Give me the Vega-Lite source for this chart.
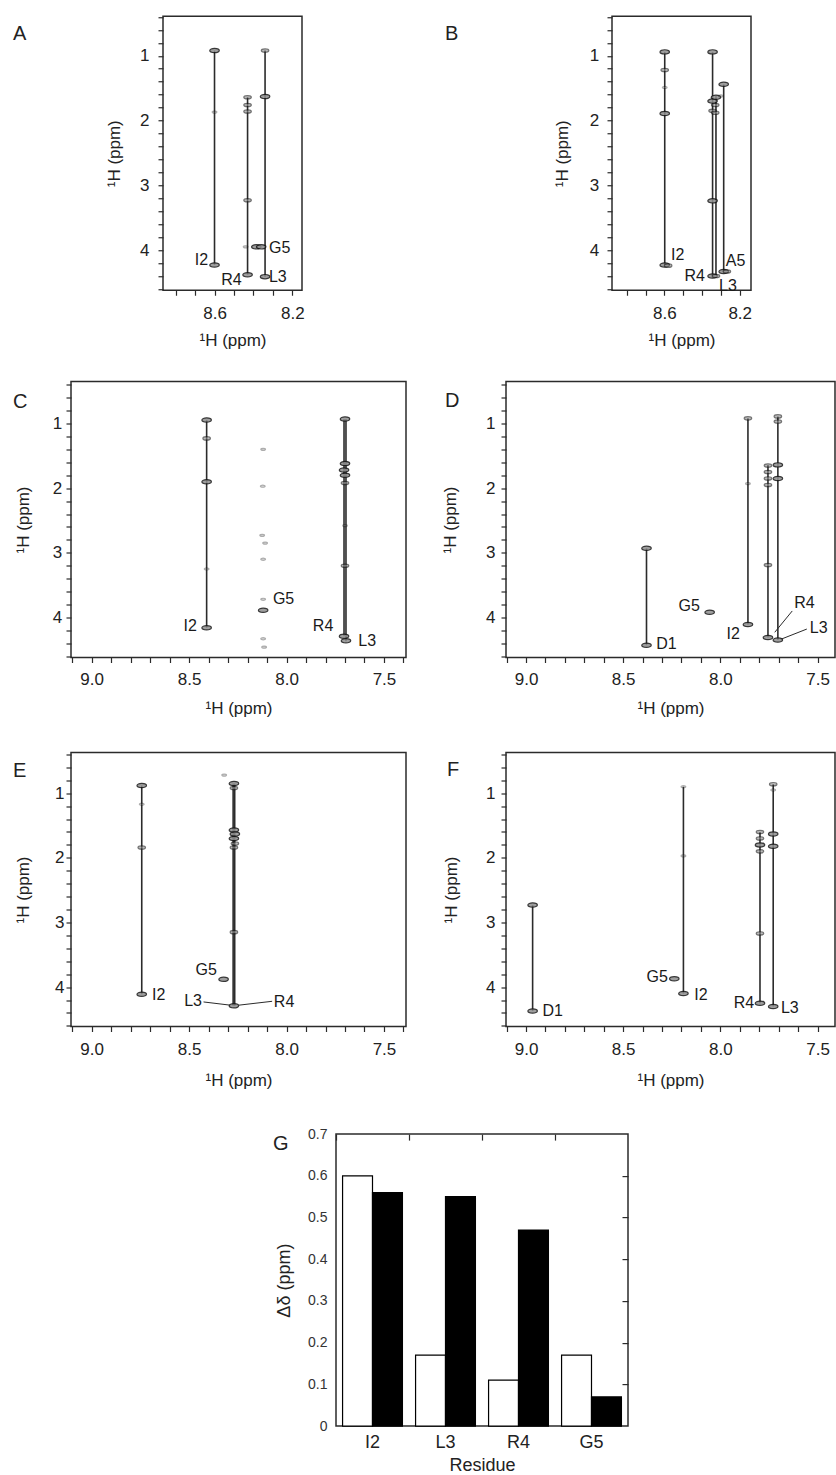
{
  "$schema": "https://vega.github.io/schema/vega-lite/v6.json",
  "padding": {"left": 0, "top": 15.25, "right": 0, "bottom": 0},
  "background": "white",
  "datasets": {
    "spinSystems": [
      {"panel": "A", "residue": "I2", "x": 8.60, "y": 0.92, "y2": 4.23},
      {"panel": "A", "residue": "R4", "x": 8.43, "y": 1.64, "y2": 4.38},
      {"panel": "A", "residue": "L3", "x": 8.34, "y": 0.92, "y2": 4.41},
      {"panel": "B", "residue": "I2", "x": 8.598, "y": 0.94, "y2": 4.23},
      {"panel": "B", "residue": "R4", "x": 8.344, "y": 0.94, "y2": 4.40},
      {"panel": "B", "residue": "L3", "x": 8.326, "y": 1.62, "y2": 4.40},
      {"panel": "B", "residue": "A5", "x": 8.285, "y": 1.44, "y2": 4.33},
      {"panel": "C", "residue": "I2", "x": 8.41, "y": 0.945, "y2": 4.16},
      {"panel": "C", "residue": "R4", "x": 7.705, "y": 0.93, "y2": 4.29},
      {"panel": "C", "residue": "L3", "x": 7.695, "y": 0.93, "y2": 4.37},
      {"panel": "D", "residue": "D1", "x": 8.38, "y": 2.93, "y2": 4.43},
      {"panel": "D", "residue": "I2", "x": 7.858, "y": 0.92, "y2": 4.11},
      {"panel": "D", "residue": "R4", "x": 7.755, "y": 1.64, "y2": 4.31},
      {"panel": "D", "residue": "L3", "x": 7.704, "y": 0.89, "y2": 4.35},
      {"panel": "E", "residue": "I2", "x": 8.743, "y": 0.88, "y2": 4.11},
      {"panel": "E", "residue": "R4", "x": 8.274, "y": 0.85, "y2": 4.29},
      {"panel": "E", "residue": "L3", "x": 8.266, "y": 0.85, "y2": 4.29},
      {"panel": "F", "residue": "D1", "x": 8.966, "y": 2.73, "y2": 4.37},
      {"panel": "F", "residue": "I2", "x": 8.19, "y": 0.90, "y2": 4.10},
      {"panel": "F", "residue": "R4", "x": 7.796, "y": 1.60, "y2": 4.25},
      {"panel": "F", "residue": "L3", "x": 7.728, "y": 0.86, "y2": 4.30}
    ],
    "crossPeaks": [
      {"panel": "A", "residue": "I2", "x": 8.60, "y": 0.92, "intensity": 3},
      {"panel": "A", "residue": "I2", "x": 8.60, "y": 1.87, "intensity": 1},
      {"panel": "A", "residue": "I2", "x": 8.60, "y": 4.23, "intensity": 3},
      {"panel": "A", "residue": "R4", "x": 8.43, "y": 1.64, "intensity": 2},
      {"panel": "A", "residue": "R4", "x": 8.43, "y": 1.76, "intensity": 2},
      {"panel": "A", "residue": "R4", "x": 8.43, "y": 1.86, "intensity": 2},
      {"panel": "A", "residue": "R4", "x": 8.43, "y": 3.23, "intensity": 2},
      {"panel": "A", "residue": "R4", "x": 8.44, "y": 3.95, "intensity": 1},
      {"panel": "A", "residue": "R4", "x": 8.43, "y": 4.38, "intensity": 3},
      {"panel": "A", "residue": "L3", "x": 8.34, "y": 0.92, "intensity": 2},
      {"panel": "A", "residue": "L3", "x": 8.34, "y": 1.63, "intensity": 3},
      {"panel": "A", "residue": "L3", "x": 8.34, "y": 4.41, "intensity": 3},
      {"panel": "A", "residue": "G5", "x": 8.385, "y": 3.95, "intensity": 3},
      {"panel": "A", "residue": "G5", "x": 8.36, "y": 3.95, "intensity": 3},
      {"panel": "B", "residue": "I2", "x": 8.598, "y": 0.94, "intensity": 3},
      {"panel": "B", "residue": "I2", "x": 8.598, "y": 1.22, "intensity": 2},
      {"panel": "B", "residue": "I2", "x": 8.598, "y": 1.49, "intensity": 1},
      {"panel": "B", "residue": "I2", "x": 8.598, "y": 1.89, "intensity": 3},
      {"panel": "B", "residue": "I2", "x": 8.598, "y": 4.23, "intensity": 3},
      {"panel": "B", "residue": "I2", "x": 8.58, "y": 4.24, "intensity": 2},
      {"panel": "B", "residue": "R4", "x": 8.344, "y": 0.94, "intensity": 3},
      {"panel": "B", "residue": "R4", "x": 8.344, "y": 1.70, "intensity": 3},
      {"panel": "B", "residue": "R4", "x": 8.344, "y": 1.85, "intensity": 2},
      {"panel": "B", "residue": "R4", "x": 8.344, "y": 3.24, "intensity": 3},
      {"panel": "B", "residue": "R4", "x": 8.344, "y": 4.40, "intensity": 3},
      {"panel": "B", "residue": "L3", "x": 8.326, "y": 1.64, "intensity": 3},
      {"panel": "B", "residue": "L3", "x": 8.33, "y": 1.76, "intensity": 2},
      {"panel": "B", "residue": "L3", "x": 8.33, "y": 1.88, "intensity": 2},
      {"panel": "B", "residue": "L3", "x": 8.326, "y": 4.40, "intensity": 2},
      {"panel": "B", "residue": "A5", "x": 8.285, "y": 1.44, "intensity": 3},
      {"panel": "B", "residue": "A5", "x": 8.30, "y": 1.62, "intensity": 1},
      {"panel": "B", "residue": "A5", "x": 8.285, "y": 4.33, "intensity": 3},
      {"panel": "B", "residue": "A5", "x": 8.268, "y": 4.33, "intensity": 2},
      {"panel": "C", "residue": "I2", "x": 8.41, "y": 0.945, "intensity": 3},
      {"panel": "C", "residue": "I2", "x": 8.41, "y": 1.23, "intensity": 2},
      {"panel": "C", "residue": "I2", "x": 8.41, "y": 1.90, "intensity": 3},
      {"panel": "C", "residue": "I2", "x": 8.41, "y": 3.25, "intensity": 1},
      {"panel": "C", "residue": "I2", "x": 8.41, "y": 4.16, "intensity": 3},
      {"panel": "C", "residue": "G5", "x": 8.12, "y": 3.89, "intensity": 3},
      {"panel": "C", "residue": "G5", "x": 8.12, "y": 3.72, "intensity": 1},
      {"panel": "C", "residue": "G5", "x": 8.12, "y": 1.40, "intensity": 1},
      {"panel": "C", "residue": "G5", "x": 8.122, "y": 1.97, "intensity": 1},
      {"panel": "C", "residue": "G5", "x": 8.125, "y": 2.73, "intensity": 1},
      {"panel": "C", "residue": "G5", "x": 8.11, "y": 2.85, "intensity": 1},
      {"panel": "C", "residue": "G5", "x": 8.12, "y": 3.10, "intensity": 1},
      {"panel": "C", "residue": "G5", "x": 8.12, "y": 4.33, "intensity": 1},
      {"panel": "C", "residue": "G5", "x": 8.115, "y": 4.46, "intensity": 1},
      {"panel": "C", "residue": "R4", "x": 7.70, "y": 0.93, "intensity": 3},
      {"panel": "C", "residue": "R4", "x": 7.70, "y": 1.62, "intensity": 3},
      {"panel": "C", "residue": "R4", "x": 7.705, "y": 1.72, "intensity": 3},
      {"panel": "C", "residue": "L3", "x": 7.70, "y": 1.80, "intensity": 3},
      {"panel": "C", "residue": "L3", "x": 7.70, "y": 1.92, "intensity": 2},
      {"panel": "C", "residue": "R4", "x": 7.70, "y": 2.58, "intensity": 1},
      {"panel": "C", "residue": "R4", "x": 7.70, "y": 3.20, "intensity": 2},
      {"panel": "C", "residue": "R4", "x": 7.705, "y": 4.29, "intensity": 3},
      {"panel": "C", "residue": "L3", "x": 7.695, "y": 4.36, "intensity": 3},
      {"panel": "D", "residue": "D1", "x": 8.38, "y": 2.93, "intensity": 3},
      {"panel": "D", "residue": "D1", "x": 8.38, "y": 4.43, "intensity": 3},
      {"panel": "D", "residue": "G5", "x": 8.055, "y": 3.92, "intensity": 3},
      {"panel": "D", "residue": "I2", "x": 7.858, "y": 0.92, "intensity": 2},
      {"panel": "D", "residue": "I2", "x": 7.858, "y": 1.93, "intensity": 1},
      {"panel": "D", "residue": "I2", "x": 7.858, "y": 4.11, "intensity": 3},
      {"panel": "D", "residue": "R4", "x": 7.755, "y": 1.65, "intensity": 2},
      {"panel": "D", "residue": "R4", "x": 7.755, "y": 1.75, "intensity": 2},
      {"panel": "D", "residue": "R4", "x": 7.755, "y": 1.85, "intensity": 2},
      {"panel": "D", "residue": "R4", "x": 7.755, "y": 1.95, "intensity": 2},
      {"panel": "D", "residue": "R4", "x": 7.755, "y": 3.19, "intensity": 2},
      {"panel": "D", "residue": "R4", "x": 7.755, "y": 4.31, "intensity": 3},
      {"panel": "D", "residue": "L3", "x": 7.704, "y": 0.89, "intensity": 2},
      {"panel": "D", "residue": "L3", "x": 7.704, "y": 0.97, "intensity": 2},
      {"panel": "D", "residue": "L3", "x": 7.704, "y": 1.64, "intensity": 3},
      {"panel": "D", "residue": "L3", "x": 7.704, "y": 1.85, "intensity": 3},
      {"panel": "D", "residue": "L3", "x": 7.704, "y": 4.35, "intensity": 3},
      {"panel": "E", "residue": "I2", "x": 8.743, "y": 0.88, "intensity": 3},
      {"panel": "E", "residue": "I2", "x": 8.743, "y": 1.17, "intensity": 1},
      {"panel": "E", "residue": "I2", "x": 8.743, "y": 1.84, "intensity": 2},
      {"panel": "E", "residue": "I2", "x": 8.743, "y": 4.11, "intensity": 3},
      {"panel": "E", "residue": "R4", "x": 8.27, "y": 0.85, "intensity": 3},
      {"panel": "E", "residue": "L3", "x": 8.27, "y": 0.92, "intensity": 2},
      {"panel": "E", "residue": "R4", "x": 8.27, "y": 1.57, "intensity": 3},
      {"panel": "E", "residue": "L3", "x": 8.265, "y": 1.63, "intensity": 3},
      {"panel": "E", "residue": "R4", "x": 8.27, "y": 1.70, "intensity": 3},
      {"panel": "E", "residue": "L3", "x": 8.265, "y": 1.78, "intensity": 2},
      {"panel": "E", "residue": "R4", "x": 8.27, "y": 1.84, "intensity": 2},
      {"panel": "E", "residue": "R4", "x": 8.27, "y": 3.15, "intensity": 2},
      {"panel": "E", "residue": "R4", "x": 8.27, "y": 4.29, "intensity": 3},
      {"panel": "E", "residue": "G5", "x": 8.323, "y": 3.88, "intensity": 3},
      {"panel": "E", "residue": "G5", "x": 8.32, "y": 0.72, "intensity": 1},
      {"panel": "F", "residue": "D1", "x": 8.966, "y": 2.73, "intensity": 3},
      {"panel": "F", "residue": "D1", "x": 8.966, "y": 4.37, "intensity": 3},
      {"panel": "F", "residue": "I2", "x": 8.19, "y": 0.90, "intensity": 1},
      {"panel": "F", "residue": "I2", "x": 8.19, "y": 1.97, "intensity": 1},
      {"panel": "F", "residue": "I2", "x": 8.19, "y": 4.10, "intensity": 3},
      {"panel": "F", "residue": "G5", "x": 8.237, "y": 3.87, "intensity": 3},
      {"panel": "F", "residue": "R4", "x": 7.796, "y": 1.60, "intensity": 2},
      {"panel": "F", "residue": "R4", "x": 7.796, "y": 1.70, "intensity": 2},
      {"panel": "F", "residue": "R4", "x": 7.796, "y": 1.80, "intensity": 3},
      {"panel": "F", "residue": "R4", "x": 7.796, "y": 1.90, "intensity": 2},
      {"panel": "F", "residue": "R4", "x": 7.796, "y": 3.17, "intensity": 2},
      {"panel": "F", "residue": "R4", "x": 7.796, "y": 4.25, "intensity": 3},
      {"panel": "F", "residue": "L3", "x": 7.728, "y": 0.86, "intensity": 2},
      {"panel": "F", "residue": "L3", "x": 7.728, "y": 0.95, "intensity": 1},
      {"panel": "F", "residue": "L3", "x": 7.728, "y": 1.63, "intensity": 3},
      {"panel": "F", "residue": "L3", "x": 7.728, "y": 1.82, "intensity": 3},
      {"panel": "F", "residue": "L3", "x": 7.728, "y": 4.30, "intensity": 3}
    ],
    "assignments": [
      {"panel": "A", "label": "I2", "x": 8.633, "y": 4.15, "side": "end"},
      {"panel": "A", "label": "R4", "x": 8.46, "y": 4.46, "side": "end"},
      {"panel": "A", "label": "G5", "x": 8.32, "y": 3.97, "side": "start"},
      {"panel": "A", "label": "L3", "x": 8.32, "y": 4.41, "side": "start"},
      {"panel": "B", "label": "I2", "x": 8.565, "y": 4.08, "side": "start"},
      {"panel": "B", "label": "R4", "x": 8.385, "y": 4.40, "side": "end"},
      {"panel": "B", "label": "A5", "x": 8.274, "y": 4.17, "side": "start"},
      {"panel": "B", "label": "L3", "x": 8.31, "y": 4.55, "side": "start"},
      {"panel": "C", "label": "I2", "x": 8.46, "y": 4.13, "side": "end"},
      {"panel": "C", "label": "G5", "x": 8.07, "y": 3.72, "side": "start"},
      {"panel": "C", "label": "R4", "x": 7.76, "y": 4.13, "side": "end"},
      {"panel": "C", "label": "L3", "x": 7.632, "y": 4.36, "side": "start"},
      {"panel": "D", "label": "G5", "x": 8.105, "y": 3.82, "side": "end"},
      {"panel": "D", "label": "I2", "x": 7.90, "y": 4.26, "side": "end"},
      {"panel": "D", "label": "D1", "x": 8.33, "y": 4.41, "side": "start"},
      {"panel": "D", "label": "R4", "x": 7.62, "y": 3.78, "side": "start"},
      {"panel": "D", "label": "L3", "x": 7.54, "y": 4.17, "side": "start"},
      {"panel": "E", "label": "G5", "x": 8.357, "y": 3.73, "side": "end"},
      {"panel": "E", "label": "I2", "x": 8.69, "y": 4.12, "side": "start"},
      {"panel": "E", "label": "L3", "x": 8.434, "y": 4.22, "side": "end"},
      {"panel": "E", "label": "R4", "x": 8.065, "y": 4.23, "side": "start"},
      {"panel": "F", "label": "D1", "x": 8.915, "y": 4.37, "side": "start"},
      {"panel": "F", "label": "G5", "x": 8.27, "y": 3.85, "side": "end"},
      {"panel": "F", "label": "I2", "x": 8.134, "y": 4.12, "side": "start"},
      {"panel": "F", "label": "R4", "x": 7.826, "y": 4.25, "side": "end"},
      {"panel": "F", "label": "L3", "x": 7.688, "y": 4.32, "side": "start"}
    ],
    "leaderLines": [
      {"panel": "D", "label": "R4", "x": 7.72, "y": 4.23, "x2": 7.63, "y2": 3.90},
      {"panel": "D", "label": "L3", "x": 7.69, "y": 4.34, "x2": 7.555, "y2": 4.18},
      {"panel": "E", "label": "L3", "x": 8.426, "y": 4.23, "x2": 8.288, "y2": 4.28},
      {"panel": "E", "label": "R4", "x": 8.245, "y": 4.28, "x2": 8.074, "y2": 4.22}
    ],
    "shiftChanges": [
      {"residue": "I2", "comparison": "first", "delta": 0.60},
      {"residue": "I2", "comparison": "second", "delta": 0.56},
      {"residue": "L3", "comparison": "first", "delta": 0.17},
      {"residue": "L3", "comparison": "second", "delta": 0.55},
      {"residue": "R4", "comparison": "first", "delta": 0.11},
      {"residue": "R4", "comparison": "second", "delta": 0.47},
      {"residue": "G5", "comparison": "first", "delta": 0.17},
      {"residue": "G5", "comparison": "second", "delta": 0.07}
    ],
    "blank": [{"note": "spacer"}]
  },
  "concat": [
    {
      "concat": [
        {
          "hconcat": [
            {"width": 1, "height": 1, "view": {"stroke": null}, "data": {"name": "blank"}, "mark": {"type": "point", "opacity": 0, "size": 0, "strokeWidth": 0}, "encoding": {}},
            {
              "hconcat": [
                {
                  "width": 139, "height": 274,
                  "title": {"text": "A", "dx": -150, "dy": 31.25},
                  "encoding": {
                    "x": {"field": "x", "type": "quantitative",
                      "scale": {"domain": [8.15, 8.865], "reverse": true, "nice": false, "zero": false},
                      "axis": {"title": "¹H (ppm)", "values": [8.2, 8.3, 8.4, 8.5, 8.6, 8.7, 8.8], "labelExpr": "abs(datum.value - 8.6) < 0.01 || abs(datum.value - 8.2) < 0.01 ? format(datum.value, '.1f') : ''", "labelPadding": 10, "titlePadding": 11}},
                    "y": {"field": "y", "type": "quantitative",
                      "scale": {"domain": [0.39, 4.62], "reverse": true, "nice": false, "zero": false},
                      "axis": {"title": "¹H (ppm)", "values": [0.4, 0.6, 0.8, 1, 1.2, 1.4, 1.6, 1.8, 2, 2.2, 2.4, 2.6, 2.8, 3, 3.2, 3.4, 3.6, 3.8, 4, 4.2, 4.4, 4.6], "labelExpr": "abs(datum.value - round(datum.value)) < 0.01 ? format(datum.value, 'd') : ''", "labelFontSize": {"condition": {"test": "abs(datum.value - round(datum.value)) < 0.01", "value": 17}, "value": 0}, "labelPadding": 9, "titlePadding": 16.5}}
                  },
                  "layer": [
                    {"data": {"name": "spinSystems"}, "transform": [{"filter": "datum.panel === 'A'"}], "mark": {"type": "rule", "color": "#2b2b2b", "strokeWidth": 1.6}, "encoding": {"y2": {"field": "y2"}}},
                    {"data": {"name": "crossPeaks"}, "transform": [{"filter": "datum.panel === 'A'"}], "mark": {"type": "point", "shape": "M-1,0A1,0.45,0,1,1,1,0A1,0.45,0,1,1,-1,0Z", "filled": true, "fill": "#8f8f8f", "stroke": "#161616", "strokeWidth": 1.2},
                     "encoding": {"size": {"field": "intensity", "type": "ordinal", "scale": {"domain": [1, 2, 3], "range": [22, 90, 190]}, "legend": null}, "opacity": {"field": "intensity", "type": "ordinal", "scale": {"domain": [1, 2, 3], "range": [0.35, 0.85, 1]}, "legend": null}}},
                    {"data": {"name": "assignments"}, "transform": [{"filter": "datum.panel === 'A' && datum.side === 'start'"}], "mark": {"type": "text", "align": "left", "baseline": "middle", "fontSize": 16}, "encoding": {"text": {"field": "label"}}},
                    {"data": {"name": "assignments"}, "transform": [{"filter": "datum.panel === 'A' && datum.side === 'end'"}], "mark": {"type": "text", "align": "right", "baseline": "middle", "fontSize": 16}, "encoding": {"text": {"field": "label"}}}
                  ]
                },
                {
                  "width": 139, "height": 274,
                  "title": {"text": "B", "dx": -167, "dy": 31.75},
                  "encoding": {
                    "x": {"field": "x", "type": "quantitative",
                      "scale": {"domain": [8.14, 8.878], "reverse": true, "nice": false, "zero": false},
                      "axis": {"title": "¹H (ppm)", "values": [8.2, 8.3, 8.4, 8.5, 8.6, 8.7, 8.8], "labelExpr": "abs(datum.value - 8.6) < 0.01 || abs(datum.value - 8.2) < 0.01 ? format(datum.value, '.1f') : ''", "labelPadding": 10, "titlePadding": 11}},
                    "y": {"field": "y", "type": "quantitative",
                      "scale": {"domain": [0.39, 4.62], "reverse": true, "nice": false, "zero": false},
                      "axis": {"title": "¹H (ppm)", "values": [0.4, 0.6, 0.8, 1, 1.2, 1.4, 1.6, 1.8, 2, 2.2, 2.4, 2.6, 2.8, 3, 3.2, 3.4, 3.6, 3.8, 4, 4.2, 4.4, 4.6], "labelExpr": "abs(datum.value - round(datum.value)) < 0.01 ? format(datum.value, 'd') : ''", "labelFontSize": {"condition": {"test": "abs(datum.value - round(datum.value)) < 0.01", "value": 17}, "value": 0}, "labelPadding": 8.4, "titlePadding": 18}}
                  },
                  "layer": [
                    {"data": {"name": "spinSystems"}, "transform": [{"filter": "datum.panel === 'B'"}], "mark": {"type": "rule", "color": "#2b2b2b", "strokeWidth": 1.6}, "encoding": {"y2": {"field": "y2"}}},
                    {"data": {"name": "crossPeaks"}, "transform": [{"filter": "datum.panel === 'B'"}], "mark": {"type": "point", "shape": "M-1,0A1,0.45,0,1,1,1,0A1,0.45,0,1,1,-1,0Z", "filled": true, "fill": "#8f8f8f", "stroke": "#161616", "strokeWidth": 1.2},
                     "encoding": {"size": {"field": "intensity", "type": "ordinal", "scale": {"domain": [1, 2, 3], "range": [22, 90, 190]}, "legend": null}, "opacity": {"field": "intensity", "type": "ordinal", "scale": {"domain": [1, 2, 3], "range": [0.35, 0.85, 1]}, "legend": null}}},
                    {"data": {"name": "assignments"}, "transform": [{"filter": "datum.panel === 'B' && datum.side === 'start'"}], "mark": {"type": "text", "align": "left", "baseline": "middle", "fontSize": 16}, "encoding": {"text": {"field": "label"}}},
                    {"data": {"name": "assignments"}, "transform": [{"filter": "datum.panel === 'B' && datum.side === 'end'"}], "mark": {"type": "text", "align": "right", "baseline": "middle", "fontSize": 16}, "encoding": {"text": {"field": "label"}}}
                  ]
                }
              ],
              "spacing": 310,
              "bounds": "flush"
            }
          ],
          "spacing": 162,
          "bounds": "flush"
        },
        {
          "hconcat": [
            {"width": 1, "height": 1, "view": {"stroke": null}, "data": {"name": "blank"}, "mark": {"type": "point", "opacity": 0, "size": 0, "strokeWidth": 0}, "encoding": {}},
            {
              "hconcat": [
                {
                  "width": 335, "height": 276,
                  "title": {"text": "C", "dx": -58, "dy": 34.25},
                  "encoding": {
                    "x": {"field": "x", "type": "quantitative",
                      "scale": {"domain": [7.387, 9.106], "reverse": true, "nice": false, "zero": false},
                      "axis": {"title": "¹H (ppm)", "values": [7.4, 7.5, 7.6, 7.7, 7.8, 7.9, 8.0, 8.1, 8.2, 8.3, 8.4, 8.5, 8.6, 8.7, 8.8, 8.9, 9.0, 9.1], "labelExpr": "abs(datum.value * 2 - round(datum.value * 2)) < 0.01 ? format(datum.value, '.1f') : ''", "labelPadding": 8.5, "titlePadding": 13.5}},
                    "y": {"field": "y", "type": "quantitative",
                      "scale": {"domain": [0.35, 4.62], "reverse": true, "nice": false, "zero": false},
                      "axis": {"title": "¹H (ppm)", "values": [0.4, 0.6, 0.8, 1, 1.2, 1.4, 1.6, 1.8, 2, 2.2, 2.4, 2.6, 2.8, 3, 3.2, 3.4, 3.6, 3.8, 4, 4.2, 4.4, 4.6], "labelExpr": "abs(datum.value - round(datum.value)) < 0.01 ? format(datum.value, 'd') : ''", "labelFontSize": {"condition": {"test": "abs(datum.value - round(datum.value)) < 0.01", "value": 17}, "value": 0}, "labelPadding": 4.3, "titlePadding": 19.7}}
                  },
                  "layer": [
                    {"data": {"name": "spinSystems"}, "transform": [{"filter": "datum.panel === 'C'"}], "mark": {"type": "rule", "color": "#2b2b2b", "strokeWidth": 1.6}, "encoding": {"y2": {"field": "y2"}}},
                    {"data": {"name": "crossPeaks"}, "transform": [{"filter": "datum.panel === 'C'"}], "mark": {"type": "point", "shape": "M-1,0A1,0.45,0,1,1,1,0A1,0.45,0,1,1,-1,0Z", "filled": true, "fill": "#8f8f8f", "stroke": "#161616", "strokeWidth": 1.2},
                     "encoding": {"size": {"field": "intensity", "type": "ordinal", "scale": {"domain": [1, 2, 3], "range": [22, 90, 190]}, "legend": null}, "opacity": {"field": "intensity", "type": "ordinal", "scale": {"domain": [1, 2, 3], "range": [0.35, 0.85, 1]}, "legend": null}}},
                    {"data": {"name": "assignments"}, "transform": [{"filter": "datum.panel === 'C' && datum.side === 'start'"}], "mark": {"type": "text", "align": "left", "baseline": "middle", "fontSize": 16}, "encoding": {"text": {"field": "label"}}},
                    {"data": {"name": "assignments"}, "transform": [{"filter": "datum.panel === 'C' && datum.side === 'end'"}], "mark": {"type": "text", "align": "right", "baseline": "middle", "fontSize": 16}, "encoding": {"text": {"field": "label"}}}
                  ]
                },
                {
                  "width": 329, "height": 276,
                  "title": {"text": "D", "dx": -61, "dy": 33.95},
                  "encoding": {
                    "x": {"field": "x", "type": "quantitative",
                      "scale": {"domain": [7.41, 9.103], "reverse": true, "nice": false, "zero": false},
                      "axis": {"title": "¹H (ppm)", "values": [7.5, 7.6, 7.7, 7.8, 7.9, 8.0, 8.1, 8.2, 8.3, 8.4, 8.5, 8.6, 8.7, 8.8, 8.9, 9.0, 9.1], "labelExpr": "abs(datum.value * 2 - round(datum.value * 2)) < 0.01 ? format(datum.value, '.1f') : ''", "labelPadding": 8.5, "titlePadding": 13.5}},
                    "y": {"field": "y", "type": "quantitative",
                      "scale": {"domain": [0.35, 4.62], "reverse": true, "nice": false, "zero": false},
                      "axis": {"title": "¹H (ppm)", "values": [0.4, 0.6, 0.8, 1, 1.2, 1.4, 1.6, 1.8, 2, 2.2, 2.4, 2.6, 2.8, 3, 3.2, 3.4, 3.6, 3.8, 4, 4.2, 4.4, 4.6], "labelExpr": "abs(datum.value - round(datum.value)) < 0.01 ? format(datum.value, 'd') : ''", "labelFontSize": {"condition": {"test": "abs(datum.value - round(datum.value)) < 0.01", "value": 17}, "value": 0}, "labelPadding": 6, "titlePadding": 26}}
                  },
                  "layer": [
                    {"data": {"name": "spinSystems"}, "transform": [{"filter": "datum.panel === 'D'"}], "mark": {"type": "rule", "color": "#2b2b2b", "strokeWidth": 1.6}, "encoding": {"y2": {"field": "y2"}}},
                    {"data": {"name": "leaderLines"}, "transform": [{"filter": "datum.panel === 'D'"}], "mark": {"type": "rule", "color": "#2b2b2b", "strokeWidth": 1}, "encoding": {"x2": {"field": "x2"}, "y2": {"field": "y2"}}},
                    {"data": {"name": "crossPeaks"}, "transform": [{"filter": "datum.panel === 'D'"}], "mark": {"type": "point", "shape": "M-1,0A1,0.45,0,1,1,1,0A1,0.45,0,1,1,-1,0Z", "filled": true, "fill": "#8f8f8f", "stroke": "#161616", "strokeWidth": 1.2},
                     "encoding": {"size": {"field": "intensity", "type": "ordinal", "scale": {"domain": [1, 2, 3], "range": [22, 90, 190]}, "legend": null}, "opacity": {"field": "intensity", "type": "ordinal", "scale": {"domain": [1, 2, 3], "range": [0.35, 0.85, 1]}, "legend": null}}},
                    {"data": {"name": "assignments"}, "transform": [{"filter": "datum.panel === 'D' && datum.side === 'start'"}], "mark": {"type": "text", "align": "left", "baseline": "middle", "fontSize": 16}, "encoding": {"text": {"field": "label"}}},
                    {"data": {"name": "assignments"}, "transform": [{"filter": "datum.panel === 'D' && datum.side === 'end'"}], "mark": {"type": "text", "align": "right", "baseline": "middle", "fontSize": 16}, "encoding": {"text": {"field": "label"}}}
                  ]
                }
              ],
              "spacing": 100,
              "bounds": "flush"
            }
          ],
          "spacing": 70,
          "bounds": "flush"
        }
      ],
      "columns": 1,
      "spacing": 31.25,
      "align": "none"
    },
    {
      "concat": [
        {
          "hconcat": [
            {"width": 1, "height": 1, "view": {"stroke": null}, "data": {"name": "blank"}, "mark": {"type": "point", "opacity": 0, "size": 0, "strokeWidth": 0}, "encoding": {}},
            {
              "hconcat": [
                {
                  "width": 335, "height": 274,
                  "title": {"text": "E", "dx": -58, "dy": 32.25},
                  "encoding": {
                    "x": {"field": "x", "type": "quantitative",
                      "scale": {"domain": [7.387, 9.106], "reverse": true, "nice": false, "zero": false},
                      "axis": {"title": "¹H (ppm)", "values": [7.4, 7.5, 7.6, 7.7, 7.8, 7.9, 8.0, 8.1, 8.2, 8.3, 8.4, 8.5, 8.6, 8.7, 8.8, 8.9, 9.0, 9.1], "labelExpr": "abs(datum.value * 2 - round(datum.value * 2)) < 0.01 ? format(datum.value, '.1f') : ''", "labelPadding": 10, "titlePadding": 15.4}},
                    "y": {"field": "y", "type": "quantitative",
                      "scale": {"domain": [0.37, 4.61], "reverse": true, "nice": false, "zero": false},
                      "axis": {"title": "¹H (ppm)", "values": [0.4, 0.6, 0.8, 1, 1.2, 1.4, 1.6, 1.8, 2, 2.2, 2.4, 2.6, 2.8, 3, 3.2, 3.4, 3.6, 3.8, 4, 4.2, 4.4, 4.6], "labelExpr": "abs(datum.value - round(datum.value)) < 0.01 ? format(datum.value, 'd') : ''", "labelFontSize": {"condition": {"test": "abs(datum.value - round(datum.value)) < 0.01", "value": 17}, "value": 0}, "labelPadding": 2, "titlePadding": 22}}
                  },
                  "layer": [
                    {"data": {"name": "spinSystems"}, "transform": [{"filter": "datum.panel === 'E'"}], "mark": {"type": "rule", "color": "#2b2b2b", "strokeWidth": 1.6}, "encoding": {"y2": {"field": "y2"}}},
                    {"data": {"name": "leaderLines"}, "transform": [{"filter": "datum.panel === 'E'"}], "mark": {"type": "rule", "color": "#2b2b2b", "strokeWidth": 1}, "encoding": {"x2": {"field": "x2"}, "y2": {"field": "y2"}}},
                    {"data": {"name": "crossPeaks"}, "transform": [{"filter": "datum.panel === 'E'"}], "mark": {"type": "point", "shape": "M-1,0A1,0.45,0,1,1,1,0A1,0.45,0,1,1,-1,0Z", "filled": true, "fill": "#8f8f8f", "stroke": "#161616", "strokeWidth": 1.2},
                     "encoding": {"size": {"field": "intensity", "type": "ordinal", "scale": {"domain": [1, 2, 3], "range": [22, 90, 190]}, "legend": null}, "opacity": {"field": "intensity", "type": "ordinal", "scale": {"domain": [1, 2, 3], "range": [0.35, 0.85, 1]}, "legend": null}}},
                    {"data": {"name": "assignments"}, "transform": [{"filter": "datum.panel === 'E' && datum.side === 'start'"}], "mark": {"type": "text", "align": "left", "baseline": "middle", "fontSize": 16}, "encoding": {"text": {"field": "label"}}},
                    {"data": {"name": "assignments"}, "transform": [{"filter": "datum.panel === 'E' && datum.side === 'end'"}], "mark": {"type": "text", "align": "right", "baseline": "middle", "fontSize": 16}, "encoding": {"text": {"field": "label"}}}
                  ]
                },
                {
                  "width": 329, "height": 274,
                  "title": {"text": "F", "dx": -59, "dy": 31.25},
                  "encoding": {
                    "x": {"field": "x", "type": "quantitative",
                      "scale": {"domain": [7.41, 9.103], "reverse": true, "nice": false, "zero": false},
                      "axis": {"title": "¹H (ppm)", "values": [7.5, 7.6, 7.7, 7.8, 7.9, 8.0, 8.1, 8.2, 8.3, 8.4, 8.5, 8.6, 8.7, 8.8, 8.9, 9.0, 9.1], "labelExpr": "abs(datum.value * 2 - round(datum.value * 2)) < 0.01 ? format(datum.value, '.1f') : ''", "labelPadding": 10, "titlePadding": 15.4}},
                    "y": {"field": "y", "type": "quantitative",
                      "scale": {"domain": [0.37, 4.61], "reverse": true, "nice": false, "zero": false},
                      "axis": {"title": "¹H (ppm)", "values": [0.4, 0.6, 0.8, 1, 1.2, 1.4, 1.6, 1.8, 2, 2.2, 2.4, 2.6, 2.8, 3, 3.2, 3.4, 3.6, 3.8, 4, 4.2, 4.4, 4.6], "labelExpr": "abs(datum.value - round(datum.value)) < 0.01 ? format(datum.value, 'd') : ''", "labelFontSize": {"condition": {"test": "abs(datum.value - round(datum.value)) < 0.01", "value": 17}, "value": 0}, "labelPadding": 6, "titlePadding": 25.3}}
                  },
                  "layer": [
                    {"data": {"name": "spinSystems"}, "transform": [{"filter": "datum.panel === 'F'"}], "mark": {"type": "rule", "color": "#2b2b2b", "strokeWidth": 1.6}, "encoding": {"y2": {"field": "y2"}}},
                    {"data": {"name": "crossPeaks"}, "transform": [{"filter": "datum.panel === 'F'"}], "mark": {"type": "point", "shape": "M-1,0A1,0.45,0,1,1,1,0A1,0.45,0,1,1,-1,0Z", "filled": true, "fill": "#8f8f8f", "stroke": "#161616", "strokeWidth": 1.2},
                     "encoding": {"size": {"field": "intensity", "type": "ordinal", "scale": {"domain": [1, 2, 3], "range": [22, 90, 190]}, "legend": null}, "opacity": {"field": "intensity", "type": "ordinal", "scale": {"domain": [1, 2, 3], "range": [0.35, 0.85, 1]}, "legend": null}}},
                    {"data": {"name": "assignments"}, "transform": [{"filter": "datum.panel === 'F' && datum.side === 'start'"}], "mark": {"type": "text", "align": "left", "baseline": "middle", "fontSize": 16}, "encoding": {"text": {"field": "label"}}},
                    {"data": {"name": "assignments"}, "transform": [{"filter": "datum.panel === 'F' && datum.side === 'end'"}], "mark": {"type": "text", "align": "right", "baseline": "middle", "fontSize": 16}, "encoding": {"text": {"field": "label"}}}
                  ]
                }
              ],
              "spacing": 100,
              "bounds": "flush"
            }
          ],
          "spacing": 70,
          "bounds": "flush"
        },
        {
          "hconcat": [
            {"width": 1, "height": 1, "view": {"stroke": null}, "data": {"name": "blank"}, "mark": {"type": "point", "opacity": 0, "size": 0, "strokeWidth": 0}, "encoding": {}},
            {
              "width": 292, "height": 292,
              "title": {"text": "G", "dx": -63, "dy": 30.5},
              "data": {"name": "shiftChanges"},
              "encoding": {
                "x": {"field": "residue", "type": "nominal", "sort": ["I2", "L3", "R4", "G5"],
                  "scale": {"paddingInner": 0.18, "paddingOuter": 0.09},
                  "axis": {"title": "Residue", "labelAngle": 0, "ticks": false, "labelPadding": 7, "titlePadding": 5, "labelFontSize": 18, "titleFontSize": 18}},
                "y": {"field": "delta", "type": "quantitative", "stack": null,
                  "scale": {"domain": [0, 0.7], "nice": false, "zero": true},
                  "axis": {"title": "Δδ (ppm)", "values": [0, 0.1, 0.2, 0.3, 0.4, 0.5, 0.6, 0.7], "labelExpr": "datum.value == 0 ? '0' : format(datum.value, '.1f')", "ticks": false, "labelPadding": 9, "titlePadding": 13.8, "labelFontSize": 14, "titleFontSize": 18, "labelColor": "#333"}}
              },
              "layer": [
                {
                  "mark": {"type": "bar", "stroke": "#000", "strokeWidth": 1.2},
                  "encoding": {
                    "xOffset": {"field": "comparison", "sort": ["first", "second"]},
                    "fill": {"field": "comparison", "scale": {"domain": ["first", "second"], "range": ["#ffffff", "#000000"]}, "legend": null}
                  }
                },
                {
                  "mark": {"type": "tick", "opacity": 0},
                  "encoding": {
                    "x": {"field": "residue", "type": "nominal", "sort": ["I2", "L3", "R4", "G5"],
                      "axis": {"orient": "top", "labels": false, "title": null, "bandPosition": 0, "tickOffset": -6.6, "offset": -6, "tickSize": 6, "ticks": true}},
                    "y": {"field": "delta", "type": "quantitative", "stack": null,
                      "axis": {"orient": "right", "labels": false, "title": null, "values": [0.1, 0.2, 0.3, 0.4, 0.5, 0.6], "offset": -6, "tickSize": 6, "ticks": true}}
                  }
                }
              ],
              "resolve": {"axis": {"x": "independent", "y": "independent"}}
            }
          ],
          "spacing": 335,
          "bounds": "flush"
        }
      ],
      "columns": 1,
      "spacing": 35.6,
      "align": "none"
    }
  ],
  "columns": 1,
  "spacing": 34.25,
  "align": "none",
  "config": {
    "font": "Liberation Sans",
    "view": {"stroke": "#2b2b2b", "strokeWidth": 1.5},
    "axis": {
      "domain": false, "grid": false, "tickSize": 5, "tickColor": "#2b2b2b", "tickWidth": 1.2,
      "labelFont": "Liberation Sans", "labelFontSize": 17, "labelColor": "#222",
      "titleFont": "Liberation Sans", "titleFontSize": 17, "titleFontWeight": "normal", "titleColor": "#222",
      "labelOverlap": false, "labelFlush": false
    },
    "title": {"font": "Liberation Sans", "fontSize": 20, "fontWeight": "normal", "color": "#222", "anchor": "start", "frame": "group", "offset": 0, "baseline": "top"},
    "text": {"font": "Liberation Sans", "fontSize": 16, "color": "#1a1a1a"}
  }
}
